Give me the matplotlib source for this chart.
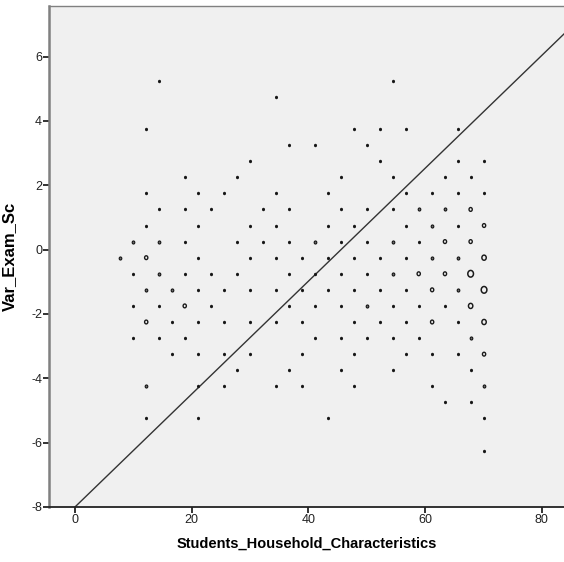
import matplotlib
matplotlib.use('Agg')
import matplotlib.pyplot as plt
from matplotlib.path import Path
import numpy as np

plt.rcParams['font.family'] = ['Liberation Sans', 'DejaVu Sans']
plt.rcParams['axes.unicode_minus'] = False

# binned scatter: one row of bin centres per y level, with the count in each bin
bin_y = [5.25, 4.75, 3.75, 3.25, 2.75, 2.25, 1.75, 1.25, 0.75, 0.25, -0.25,
         -0.75, -1.25, -1.75, -2.25, -2.75, -3.25, -3.75, -4.25, -4.75, -5.25, -6.25]
bin_x = [
    [14.4, 54.5],
    [34.4],
    [12.2, 47.8, 52.2, 56.7, 65.6],
    [36.7, 41.1, 50.0],
    [30.0, 52.2, 65.6, 70.1],
    [18.8, 27.8, 45.6, 54.5, 63.4, 67.8],
    [12.2, 21.1, 25.5, 34.4, 43.3, 56.7, 61.2, 65.6, 70.1],
    [14.4, 18.8, 23.3, 32.2, 36.7, 45.6, 50.0, 54.5, 58.9, 63.4, 67.8],
    [12.2, 21.1, 30.0, 34.4, 43.3, 47.8, 56.7, 61.2, 65.6, 70.1],
    [9.9, 14.4, 18.8, 27.8, 32.2, 36.7, 41.1, 45.6, 50.0, 54.5, 58.9, 63.4, 67.8],
    [7.7, 12.2, 21.1, 30.0, 34.4, 38.9, 43.3, 47.8, 52.2, 56.7, 61.2, 65.6, 70.1],
    [9.9, 14.4, 18.8, 23.3, 27.8, 36.7, 41.1, 45.6, 50.0, 54.5, 58.9, 63.4, 67.8],
    [12.2, 16.6, 21.1, 25.5, 30.0, 34.4, 38.9, 43.3, 47.8, 52.2, 56.7, 61.2, 65.6, 70.1],
    [9.9, 14.4, 18.8, 23.3, 36.7, 41.1, 45.6, 50.0, 54.5, 58.9, 63.4, 67.8],
    [12.2, 16.6, 21.1, 25.5, 30.0, 34.4, 38.9, 47.8, 52.2, 56.7, 61.2, 65.6, 70.1],
    [9.9, 14.4, 18.8, 41.1, 45.6, 50.0, 54.5, 58.9, 67.8],
    [16.6, 21.1, 25.5, 30.0, 38.9, 47.8, 56.7, 61.2, 65.6, 70.1],
    [27.8, 36.7, 45.6, 54.5, 67.8],
    [12.2, 21.1, 25.5, 34.4, 38.9, 47.8, 61.2, 70.1],
    [63.4, 67.8],
    [12.2, 21.1, 43.3, 70.1],
    [70.1],
]
bin_n = [
    [1, 1],
    [1],
    [1, 1, 1, 1, 1],
    [1, 1, 1],
    [1, 1, 1, 1],
    [1, 1, 1, 1, 1, 1],
    [1, 1, 1, 1, 1, 1, 1, 1, 1],
    [1, 1, 1, 1, 1, 1, 1, 1, 2, 2, 3],
    [1, 1, 1, 1, 1, 1, 1, 2, 1, 3],
    [2, 2, 1, 1, 1, 1, 2, 1, 1, 2, 1, 3, 3],
    [2, 3, 1, 1, 1, 1, 1, 1, 1, 1, 2, 2, 4],
    [1, 2, 1, 1, 1, 1, 1, 1, 1, 2, 3, 3, 5],
    [2, 2, 1, 1, 1, 1, 1, 1, 1, 1, 1, 3, 2, 5],
    [1, 1, 3, 1, 1, 1, 1, 2, 1, 1, 1, 4],
    [3, 1, 1, 1, 1, 1, 1, 1, 1, 1, 3, 1, 4],
    [1, 1, 1, 1, 1, 1, 1, 1, 2],
    [1, 1, 1, 1, 1, 1, 1, 1, 1, 3],
    [1, 1, 1, 1, 1],
    [2, 1, 1, 1, 1, 1, 1, 2],
    [1, 1],
    [1, 1, 1, 1],
    [1],
]

# reference line
fit_intercept = -8.0
fit_slope = 0.1755

x_ticks = [0, 20, 40, 60, 80]
y_ticks = [-8, -6, -4, -2, 0, 2, 4, 6]

xs, ys, ns = [], [], []
for yv, row_x, row_n in zip(bin_y, bin_x, bin_n):
    xs += row_x
    ys += [yv] * len(row_x)
    ns += row_n
xs, ys, ns = np.array(xs), np.array(ys), np.array(ns)

# slightly tall ellipse, like the SPSS "o" markers
t = np.linspace(0, 2 * np.pi, 40)
oval = Path(np.column_stack([0.85 * np.cos(t), np.sin(t)]), closed=True)

# per count: outer height in px, face colour, ring width in pt
marker_style = {
    1: (3.4, '#111111', 0.85),
    2: (4.2, '#6e6e6e', 0.85),
    3: (5.2, 'none', 1.0),
    4: (6.6, 'none', 1.05),
    5: (8.2, 'none', 1.1),
}

fig = plt.figure(figsize=(5.64, 5.62), dpi=100)
ax = fig.add_axes([0.087, 0.098, 0.913, 0.891])
ax.set_facecolor('#f0f0f0')

for n, (h, fc, lw) in marker_style.items():
    m = ns == n
    if not m.any():
        continue
    s = ((h - lw / 0.72) * 0.72) ** 2
    ax.scatter(xs[m], ys[m], s=s, marker=oval, facecolors=fc, edgecolors='#1a1a1a',
               linewidths=lw, zorder=3)

xlim = (-4.45, 83.8)
lx = np.array(xlim)
ax.plot(lx, fit_intercept + fit_slope * lx, color='#333333', lw=1.0, zorder=2)

ax.set_xlim(xlim)
ax.set_ylim(-8, 7.57)
ax.set_xticks(x_ticks)
ax.set_yticks(y_ticks)

for s in ['left', 'top']:
    ax.spines[s].set_color('#808080')
ax.spines['left'].set_linewidth(1.8)
ax.spines['top'].set_linewidth(1.0)
ax.spines['right'].set_visible(False)
ax.spines['bottom'].set_color('#222222')
ax.spines['bottom'].set_linewidth(1.3)

ax.tick_params(axis='both', direction='out', length=4, width=1.3, labelsize=9, pad=1,
               colors='#222222')

ax.set_xlabel('Students_Household_Characteristics', fontsize=10.5, fontweight='bold', labelpad=8)
ax.set_ylabel('Var_Exam_Sc', fontsize=12, fontweight='bold', labelpad=10)

fig.savefig('out.png', dpi=100)
